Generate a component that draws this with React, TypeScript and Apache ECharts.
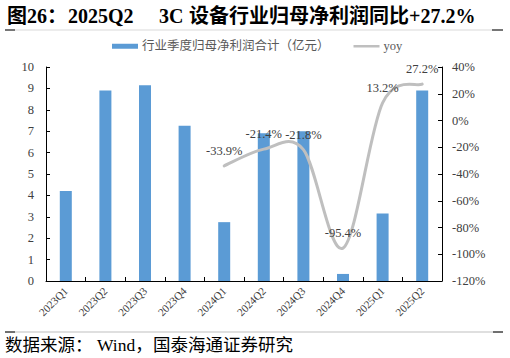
import React, { useEffect, useRef } from "react";
import * as echarts from "echarts";

const categories = ["2023Q1", "2023Q2", "2023Q3", "2023Q4", "2024Q1", "2024Q2", "2024Q3", "2024Q4", "2025Q1", "2025Q2"];
const profit = [4.2, 8.9, 9.15, 7.25, 2.75, 6.9, 7.0, 0.33, 3.15, 8.9];
const yoy: (number | null)[] = [null, null, null, null, -33.9, -21.4, -21.8, -95.4, 13.2, 27.2];
const barName = "行业季度归母净利润合计（亿元）";
const lineName = "yoy";

const serif = "'Times New Roman', 'Liberation Serif', 'Noto Sans CJK SC', serif";
const cjk = "'Liberation Serif', 'Noto Sans CJK SC', serif";

function smoothPath(pts: number[][]): string {
  // Excel-like Catmull-Rom smoothing (tension 1/6)
  if (pts.length < 2) return "";
  let d = `M${pts[0][0]},${pts[0][1]}`;
  for (let i = 0; i < pts.length - 1; i++) {
    const p0 = pts[i - 1] || pts[i];
    const p1 = pts[i];
    const p2 = pts[i + 1];
    const p3 = pts[i + 2] || p2;
    const c1x = p1[0] + (p2[0] - p0[0]) / 6;
    const c1y = p1[1] + (p2[1] - p0[1]) / 6;
    const c2x = p2[0] - (p3[0] - p1[0]) / 6;
    const c2y = p2[1] - (p3[1] - p1[1]) / 6;
    d += ` C${c1x},${c1y} ${c2x},${c2y} ${p2[0]},${p2[1]}`;
  }
  return d;
}

export default function App() {
  const ref = useRef<HTMLDivElement>(null);
  useEffect(() => {
    if (!ref.current) return;
    const chart = echarts.init(ref.current, null, { renderer: "svg" });
    const titleStyle = { fontFamily: cjk, fontSize: 20, fontWeight: "bold", fill: "#000" };
    const srcStyle = { fontFamily: cjk, fontSize: 17.5, fill: "#000" };
    const firstIdx = yoy.findIndex((v) => v != null);
    chart.setOption({
      animation: false,
      backgroundColor: "#fff",
      legend: {
        left: 107,
        top: 35,
        itemWidth: 26,
        itemHeight: 5,
        itemGap: 24,
        textStyle: { fontFamily: cjk, fontSize: 12.5, color: "#595959", padding: [0, 0, 0, -1] },
        data: [
          { name: barName, icon: "rect", itemStyle: { color: "#5B9BD5" } },
          {
            name: lineName,
            icon: "path://M0,0L0.01,0Z M0,1.2H26V3.8H0Z M0,5L0.01,5Z",
            itemStyle: { color: "#BFBFBF", opacity: 1 },
          },
        ],
      },
      grid: { left: 46, right: 68, top: 67, bottom: 77 },
      xAxis: {
        type: "category",
        data: categories,
        boundaryGap: true,
        axisLine: { lineStyle: { color: "#000", width: 1 } },
        axisTick: { show: true, inside: true, length: 4, lineStyle: { color: "#000" } },
        axisLabel: { rotate: 45, fontFamily: serif, fontSize: 11, color: "#404040", margin: 8, interval: 0 },
      },
      yAxis: [
        {
          type: "value",
          min: 0,
          max: 10,
          interval: 1,
          axisLine: { show: true, lineStyle: { color: "#000" } },
          axisTick: { show: true, inside: true, length: 4, lineStyle: { color: "#000" } },
          axisLabel: { fontFamily: serif, fontSize: 12.5, color: "#404040", margin: 12 },
          splitLine: { show: false },
        },
        {
          type: "value",
          min: -120,
          max: 40,
          interval: 20,
          position: "right",
          axisLine: { show: true, lineStyle: { color: "#000" } },
          axisTick: { show: true, inside: true, length: 4, lineStyle: { color: "#000" } },
          axisLabel: { fontFamily: serif, fontSize: 12.5, color: "#404040", margin: 10, formatter: "{value}%" },
          splitLine: { show: false },
        },
      ],
      series: [
        {
          name: barName,
          type: "bar",
          data: profit,
          barWidth: 12,
          itemStyle: { color: "#5B9BD5" },
        },
        {
          name: lineName + "-curve",
          type: "custom",
          yAxisIndex: 1,
          coordinateSystem: "cartesian2d",
          data: [[firstIdx, yoy[firstIdx]]],
          clip: false,
          silent: true,
          z: 3,
          renderItem: (params: any, api: any) => {
            const pts: number[][] = [];
            yoy.forEach((v, i) => {
              if (v != null) pts.push(api.coord([i, v]));
            });
            return {
              type: "path",
              shape: { pathData: smoothPath(pts) },
              style: { stroke: "#BFBFBF", lineWidth: 3, fill: "none", lineCap: "round" },
            };
          },
        },
        {
          name: lineName,
          type: "line",
          yAxisIndex: 1,
          data: yoy,
          symbol: "circle",
          symbolSize: 1,
          lineStyle: { width: 0, opacity: 0 },
          itemStyle: { color: "rgba(0,0,0,0)", borderWidth: 0 },
          z: 4,
          label: {
            show: true,
            position: "top",
            distance: 8,
            fontFamily: serif,
            fontSize: 12.5,
            color: "#404040",
            formatter: (p: any) => {
              const v = Array.isArray(p.value) ? p.value[1] : p.value;
              return v == null ? "" : Number(v).toFixed(1) + "%";
            },
          },
        },
      ],
      graphic: [
        { type: "text", left: 7, top: 6, style: { ...titleStyle, text: "图26：" } },
        { type: "text", left: 68, top: 6, style: { ...titleStyle, text: "2025Q2" } },
        { type: "text", left: 159, top: 6, style: { ...titleStyle, text: "3C" } },
        { type: "text", left: 189, top: 6, style: { ...titleStyle, text: "设备行业归母净利润同比+27.2%" } },
        { type: "line", shape: { x1: 5, y1: 30, x2: 503, y2: 30 }, style: { stroke: "#D9D9D9", lineWidth: 1 } },
        { type: "line", shape: { x1: 5, y1: 30, x2: 15, y2: 30 }, style: { stroke: "#000", lineWidth: 1 } },
        { type: "line", shape: { x1: 492, y1: 30, x2: 503, y2: 30 }, style: { stroke: "#000", lineWidth: 1 } },
        { type: "line", shape: { x1: 5, y1: 332, x2: 503, y2: 332 }, style: { stroke: "#BFBFBF", lineWidth: 1 } },
        { type: "line", shape: { x1: 5, y1: 332, x2: 15, y2: 332 }, style: { stroke: "#000", lineWidth: 1 } },
        { type: "line", shape: { x1: 493, y1: 332, x2: 503, y2: 332 }, style: { stroke: "#000", lineWidth: 1 } },
        { type: "text", left: 5, top: 336, style: { ...srcStyle, text: "数据来源：" } },
        { type: "text", left: 97, top: 336, style: { ...srcStyle, text: "Wind，" } },
        { type: "text", left: 153, top: 336, style: { ...srcStyle, text: "国泰海通证券研究" } },
      ],
    });
    return () => chart.dispose();
  }, []);
  return (
    <div
      ref={ref}
      style={{ position: "fixed", left: 0, top: 0, width: 510, height: 358, background: "#fff" }}
    />
  );
}
